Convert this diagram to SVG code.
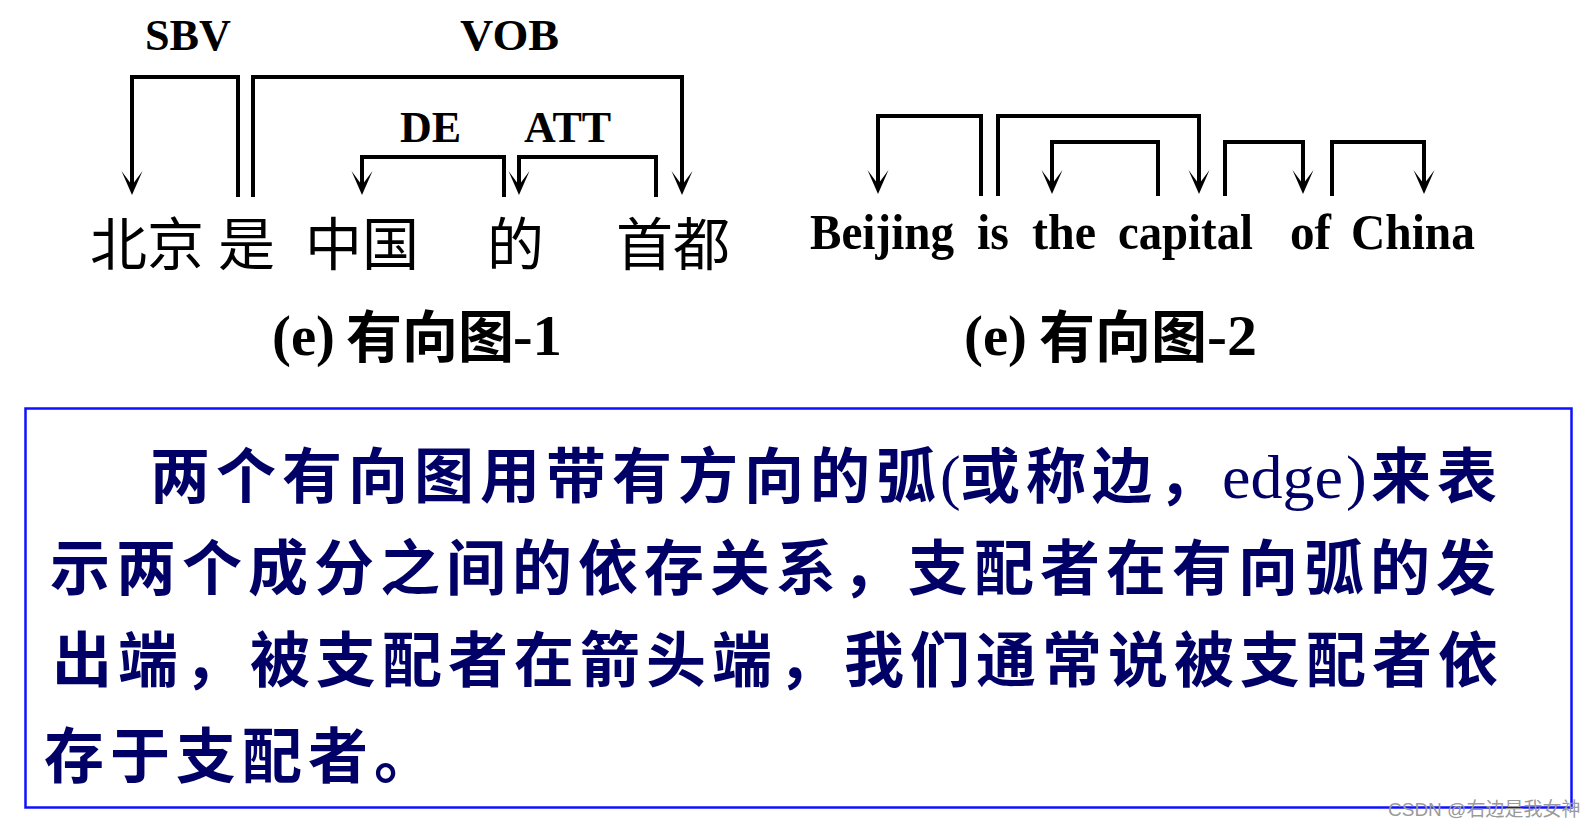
<svg xmlns="http://www.w3.org/2000/svg" width="1594" height="830" viewBox="0 0 1594 830">
<defs>
<style>
.lab{font-family:"Liberation Serif","Times New Roman",serif;font-weight:bold;font-size:44px;fill:#000}
.en{font-family:"Liberation Serif","Times New Roman",serif;font-weight:bold;font-size:50px;fill:#000}
.zh{font-family:"Noto Sans CJK SC",sans-serif;font-size:57px;fill:#000}
.capl{font-family:"Liberation Serif","Times New Roman",serif;font-weight:bold;font-size:56px;fill:#000}
.capz{font-family:"Noto Sans CJK SC",sans-serif;font-weight:bold;font-size:56px;fill:#000}
.arc{fill:none;stroke:#000;stroke-width:4;stroke-linejoin:miter;stroke-linecap:butt}
.para{font-family:"Noto Sans CJK SC",sans-serif;font-weight:bold;font-size:60px;fill:#000066;letter-spacing:6px}
.paral{font-family:"Liberation Serif","Times New Roman",serif;font-size:62px;fill:#000066}
.wm{font-family:"Liberation Sans","Noto Sans CJK SC",sans-serif;font-size:19px;fill:#9a9a9a}
</style>
<marker id="ah" viewBox="0 0 26 22" refX="13" refY="11" markerWidth="26" markerHeight="22" markerUnits="userSpaceOnUse" orient="auto">
<path d="M1,0.5 L25,11 L1,21.5 L13,12.6 L13,9.4 Z" fill="#000"/>
</marker>
</defs>
<rect width="1594" height="830" fill="#fff"/>

<g id="connectors">
<path class="arc" d="M238,197 V77 H132 V183" marker-end="url(#ah)"/>
<path class="arc" d="M253,197 V77 H682 V183" marker-end="url(#ah)"/>
<path class="arc" d="M504,197 V157 H362 V183" marker-end="url(#ah)"/>
<path class="arc" d="M656,197 V157 H519 V183" marker-end="url(#ah)"/>
<path class="arc" d="M981,196 V116 H878 V182" marker-end="url(#ah)"/>
<path class="arc" d="M998,196 V116 H1199 V182" marker-end="url(#ah)"/>
<path class="arc" d="M1158,196 V142 H1052 V182" marker-end="url(#ah)"/>
<path class="arc" d="M1225,196 V142 H1303 V182" marker-end="url(#ah)"/>
<path class="arc" d="M1332,196 V142 H1424 V182" marker-end="url(#ah)"/>
</g>

<g id="labels">
<text class="lab" x="145" y="50" textLength="86" lengthAdjust="spacingAndGlyphs">SBV</text>
<text class="lab" x="460" y="50" textLength="99" lengthAdjust="spacingAndGlyphs">VOB</text>
<text class="lab" x="400" y="142">DE</text>
<text class="lab" x="524" y="142">ATT</text>
</g>

<g id="n-beijing"><text class="zh" x="90" y="265">北京</text></g>
<g id="n-shi"><text class="zh" x="218" y="265">是</text></g>
<g id="n-zhongguo"><text class="zh" x="305" y="265">中国</text></g>
<g id="n-de"><text class="zh" x="487" y="265">的</text></g>
<g id="n-shoudu"><text class="zh" x="616" y="265">首都</text></g>

<g id="n-Beijing"><text class="en" x="810" y="249" textLength="144" lengthAdjust="spacingAndGlyphs">Beijing</text></g>
<g id="n-is"><text class="en" x="977" y="249" textLength="32" lengthAdjust="spacingAndGlyphs">is</text></g>
<g id="n-the"><text class="en" x="1032" y="249" textLength="64" lengthAdjust="spacingAndGlyphs">the</text></g>
<g id="n-capital"><text class="en" x="1118" y="249" textLength="135" lengthAdjust="spacingAndGlyphs">capital</text></g>
<g id="n-of"><text class="en" x="1290" y="249" textLength="41" lengthAdjust="spacingAndGlyphs">of</text></g>
<g id="n-China"><text class="en" x="1351" y="249" textLength="124" lengthAdjust="spacingAndGlyphs">China</text></g>

<g id="caption-1">
<text class="capl" x="272" y="355" textLength="63" lengthAdjust="spacingAndGlyphs">(e)</text>
<text class="capz" x="346" y="357">有向图</text>
<text class="capl" x="513" y="355" textLength="49" lengthAdjust="spacingAndGlyphs">-1</text>
</g>
<g id="caption-2">
<text class="capl" x="964" y="355" textLength="63" lengthAdjust="spacingAndGlyphs">(e)</text>
<text class="capz" x="1039" y="357">有向图</text>
<text class="capl" x="1207" y="355" textLength="50" lengthAdjust="spacingAndGlyphs">-2</text>
</g>

<g id="note">
<rect x="25.5" y="408.5" width="1546" height="399" fill="none" stroke="#1010ff" stroke-width="2.5"/>
<text class="para" x="150" y="498">两个有向图用带有方向的弧</text>
<text class="paral" x="940" y="498">(</text>
<text class="para" x="960" y="498">或称边，</text>
<text class="paral" x="1222" y="498" textLength="121" lengthAdjust="spacingAndGlyphs">edge</text>
<text class="paral" x="1346" y="498">)</text>
<text class="para" x="1371" y="498">来表</text>
<text class="para" x="50" y="590">示两个成分之间的依存关系，支配者在有向弧的发</text>
<text class="para" x="52" y="682">出端，被支配者在箭头端，我们通常说被支配者依</text>
<text class="para" x="44" y="778">存于支配者。</text>
</g>

<text class="wm" x="1388" y="816">CSDN @右边是我女神</text>
</svg>
